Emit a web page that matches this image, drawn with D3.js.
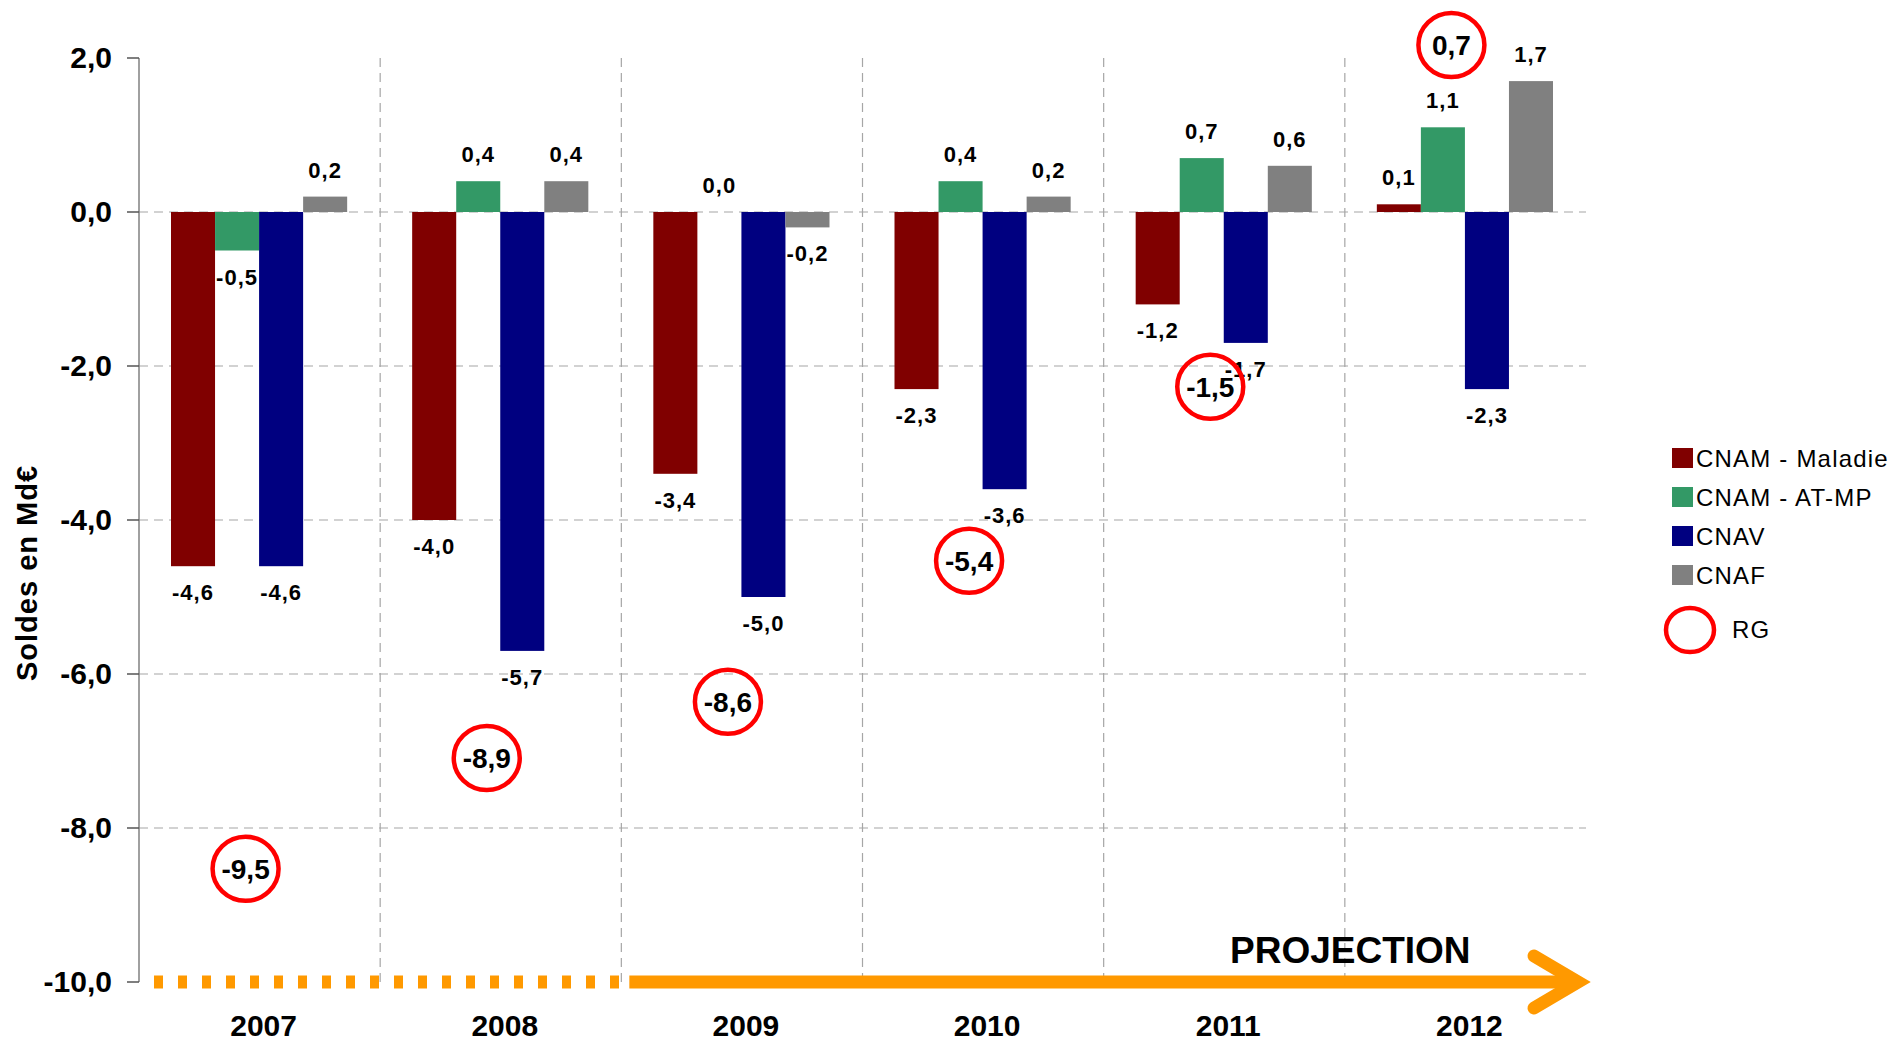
<!DOCTYPE html>
<html>
<head>
<meta charset="utf-8">
<script src="https://cdn.jsdelivr.net/npm/d3@7"></script>
<style>
  body { margin: 0; background: #fff; }
  text { font-family: "Liberation Sans", Arial, sans-serif; }
</style>
</head>
<body>
<div id="chart"></div>
<script>
// data (Md€)
const years = ["2007", "2008", "2009", "2010", "2011", "2012"];
const series = ["CNAM - Maladie", "CNAM - AT-MP", "CNAV", "CNAF"];
const maladie = [-4.6, -4.0, -3.4, -2.3, -1.2, 0.1];
const atmp = [-0.5, 0.4, 0.0, 0.4, 0.7, 1.1];
const cnav = [-4.6, -5.7, -5.0, -3.6, -1.7, -2.3];
const cnaf = [0.2, 0.4, -0.2, 0.2, 0.6, 1.7];
const rg = [-9.5, -8.9, -8.6, -5.4, -1.5, 0.7];
const yTicks = [2, 0, -2, -4, -6, -8, -10];

// where the hand drawn RG circles sit (in axis units), they are not on the value
const rgBadgeAt = [-8.53, -7.09, -6.36, -4.53, -2.27, 2.17];

const colors = ["#800000", "#339966", "#000080", "#808080"];
const values = [maladie, atmp, cnav, cnaf];

var width = 1892, height = 1041;
const svg = d3.select("#chart").append("svg").attr("width", width).attr("height", height);

const fr = d3.formatLocale({decimal: ",", thousands: " ", grouping: [3], currency: ["", "€"], minus: "-"});
const fmt = fr.format(".1f");

const x0 = d3.scaleBand().domain(years).range([139, 1586]).padding(0);
const bw = x0.bandwidth();
const x1 = d3.scaleBand().domain(series).range([32, bw - 33]).padding(0);
const y = d3.scaleLinear().domain([-10, 2]).range([982, 58]);

// grid
const grid = svg.append("g");
grid.selectAll("line.h")
    .data(yTicks.filter(t => t > -10 && t < 2))
    .enter().append("line")
    .attr("x1", 139).attr("x2", 1586)
    .attr("y1", d => y(d)).attr("y2", d => y(d))
    .attr("stroke", "#a6a6a6").attr("stroke-width", 1.2)
    .attr("stroke-dasharray", "9,6");
grid.selectAll("line.v")
    .data(years.slice(1))
    .enter().append("line")
    .attr("x1", d => x0(d)).attr("x2", d => x0(d))
    .attr("y1", y(2)).attr("y2", y(-10))
    .attr("stroke", "#a6a6a6").attr("stroke-width", 1.2)
    .attr("stroke-dasharray", "9,6");

// bars
const rows = [];
years.forEach((yr, i) => series.forEach((s, j) => rows.push({year: yr, s: s, j: j, v: values[j][i]})));

svg.append("g").selectAll("rect")
    .data(rows).enter()
    .append("rect")
    .attr("x", d => x0(d.year) + x1(d.s))
    .attr("width", x1.bandwidth())
    .attr("y", d => y(Math.max(0, d.v)))
    .attr("height", d => Math.abs(y(d.v) - y(0)))
    .attr("fill", d => colors[d.j]);

svg.append("g").selectAll("text")
    .data(rows).enter()
    .append("text")
    .attr("x", d => x0(d.year) + x1(d.s) + x1.bandwidth() / 2)
    .attr("y", d => d.v >= 0 ? y(d.v) - 19 : y(d.v) + 34)
    .attr("text-anchor", "middle")
    .attr("font-size", 22).attr("font-weight", "bold")
    .attr("letter-spacing", 1)
    .text(d => fmt(d.v));

// y axis
const yAxis = svg.append("g");
yAxis.append("line")
    .attr("x1", 139).attr("x2", 139).attr("y1", y(2)).attr("y2", y(-10))
    .attr("stroke", "#808080").attr("stroke-width", 1.5);
yAxis.selectAll("line.t").data(yTicks).enter().append("line")
    .attr("x1", 127).attr("x2", 139)
    .attr("y1", d => y(d)).attr("y2", d => y(d))
    .attr("stroke", "#555").attr("stroke-width", 1.5);
yAxis.selectAll("text").data(yTicks).enter().append("text")
    .attr("x", 112).attr("y", d => y(d) + 10)
    .attr("text-anchor", "end")
    .attr("font-size", 30).attr("font-weight", "bold")
    .text(d => fmt(d));

svg.append("text")
    .attr("transform", "translate(37,573) rotate(-90)")
    .attr("text-anchor", "middle")
    .attr("font-size", 29).attr("font-weight", "bold")
    .attr("letter-spacing", 1)
    .text("Soldes en Md€");

// years
svg.append("g").selectAll("text")
    .data(years).enter()
    .append("text")
    .attr("x", d => x0(d) + bw / 2 + 4)
    .attr("y", 1036)
    .attr("text-anchor", "middle")
    .attr("font-size", 30).attr("font-weight", "bold")
    .text(d => d);

// orange arrow : dotted over the known years, solid over the projection
const orange = "#ff9900";
const xStart = x0.range()[0] + 15;
const xSplit = x0("2009");
const xEnd = x0.range()[1] - 8;
svg.append("line")
    .attr("x1", xStart).attr("x2", xSplit)
    .attr("y1", y(-10)).attr("y2", y(-10))
    .attr("stroke", orange).attr("stroke-width", 13)
    .attr("stroke-dasharray", "9,15");
svg.append("line")
    .attr("x1", xSplit + 8).attr("x2", xEnd - 4)
    .attr("y1", y(-10)).attr("y2", y(-10))
    .attr("stroke", orange).attr("stroke-width", 13);
svg.append("path")
    .attr("d", `M${xEnd - 44},${y(-10) - 26} L${xEnd},${y(-10)} L${xEnd - 44},${y(-10) + 26}`)
    .attr("fill", "none").attr("stroke", orange).attr("stroke-width", 13)
    .attr("stroke-linecap", "round").attr("stroke-linejoin", "miter");
svg.append("text")
    .attr("x", 1230).attr("y", 963)
    .attr("font-size", 37).attr("font-weight", "bold")
    .text("PROJECTION");

// RG badges
const badges = svg.append("g").selectAll("g")
    .data(years).enter()
    .append("g")
    .attr("transform", (d, i) => `translate(${x0(d) + bw / 2 - 14},${y(rgBadgeAt[i])})`);
badges.append("ellipse")
    .attr("rx", 33).attr("ry", 32)
    .attr("fill", "none").attr("stroke", "#ff0000").attr("stroke-width", 4.5);
badges.append("text")
    .attr("text-anchor", "middle").attr("y", 10)
    .attr("font-size", 28).attr("font-weight", "bold")
    .text((d, i) => fmt(rg[i]));

// legend
const legend = svg.append("g").attr("transform", "translate(1672,448)");
const li = legend.selectAll("g").data(series).enter().append("g")
    .attr("transform", (d, i) => `translate(0,${i * 39})`);
li.append("rect").attr("width", 21).attr("height", 20).attr("fill", (d, i) => colors[i]);
li.append("text").attr("x", 24).attr("y", 19)
    .attr("font-size", 24).attr("letter-spacing", 1.2)
    .text(d => d);
legend.append("ellipse")
    .attr("cx", 18).attr("cy", 182).attr("rx", 24).attr("ry", 22)
    .attr("fill", "none").attr("stroke", "#ff0000").attr("stroke-width", 4.5);
legend.append("text").attr("x", 60).attr("y", 190)
    .attr("font-size", 24).attr("letter-spacing", 1.2)
    .text("RG");
</script>
</body>
</html>
